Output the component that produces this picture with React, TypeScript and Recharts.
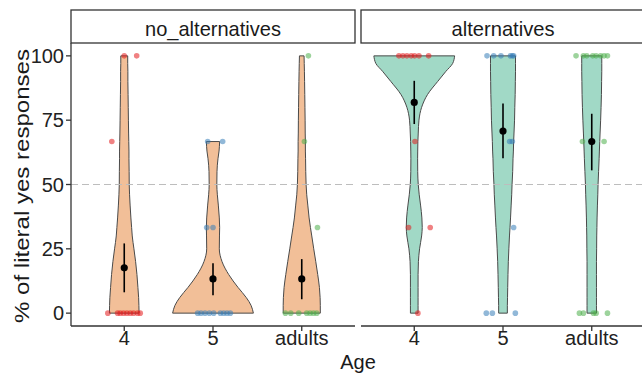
import { ComposedChart, Area, Scatter, XAxis, YAxis, ReferenceLine, ErrorBar } from "recharts"

const ages = ["4", "5", "adults"]
const yTicks = [0, 25, 50, 75, 100]

// y levels where the violin half-widths were read
const levels = [0, 3, 6, 10, 15, 20, 25, 30, 33.3, 37, 42, 46, 50, 55, 60, 63, 66.7, 70, 75, 80, 85, 90, 94, 97, 100]

// half-widths in category units (null = outside the violin)
const noAlt4W = [0.167, 0.165, 0.162, 0.154, 0.143, 0.128, 0.109, 0.09, 0.083, 0.075, 0.066, 0.06, 0.056, 0.055, 0.053, 0.053, 0.051, 0.049, 0.047, 0.045, 0.043, 0.041, 0.041, 0.039, 0.039]
const noAlt5W = [0.455, 0.429, 0.376, 0.282, 0.177, 0.102, 0.071, 0.073, 0.075, 0.071, 0.06, 0.049, 0.043, 0.045, 0.056, 0.068, 0.075, null, null, null, null, null, null, null, null]
const noAltAdW = [0.209, 0.209, 0.207, 0.199, 0.18, 0.158, 0.135, 0.113, 0.098, 0.083, 0.068, 0.056, 0.049, 0.045, 0.043, 0.041, 0.041, 0.039, 0.038, 0.036, 0.034, 0.032, 0.03, 0.028, 0.026]
const alt4W = [0.043, 0.043, 0.043, 0.043, 0.043, 0.047, 0.06, 0.083, 0.09, 0.086, 0.071, 0.056, 0.045, 0.039, 0.038, 0.039, 0.041, 0.045, 0.053, 0.083, 0.15, 0.263, 0.357, 0.432, 0.455]
const alt5W = [0.049, 0.049, 0.051, 0.053, 0.056, 0.06, 0.066, 0.073, 0.079, 0.085, 0.092, 0.098, 0.102, 0.109, 0.113, 0.117, 0.12, 0.124, 0.13, 0.133, 0.137, 0.139, 0.141, 0.141, 0.141]
const altAdW = [0.053, 0.053, 0.053, 0.053, 0.053, 0.053, 0.055, 0.056, 0.058, 0.06, 0.064, 0.068, 0.071, 0.077, 0.083, 0.086, 0.09, 0.094, 0.1, 0.105, 0.109, 0.111, 0.113, 0.113, 0.113]

// jittered responses: [offset from category, value]
const noAlt4Pts = [[0, 100], [0.14, 100], [-0.14, 66.7], [-0.185, 0], [-0.075, 0], [-0.045, 0], [-0.008, 0], [0.03, 0], [0.068, 0], [0.105, 0], [0.15, 0], [0.18, 0]]
const noAlt5Pts = [[-0.06, 66.7], [0.109, 66.7], [-0.071, 33.3], [0, 33.3], [-0.173, 0], [-0.135, 0], [-0.09, 0], [-0.041, 0], [0.008, 0], [0.083, 0], [0.12, 0], [0.158, 0], [0.195, 0]]
const noAltAdPts = [[0.075, 100], [0.03, 66.7], [0.177, 33.3], [-0.184, 0], [-0.124, 0], [-0.034, 0], [0.056, 0], [0.094, 0], [0.132, 0], [0.169, 0]]
const alt4Pts = [[-0.173, 100], [-0.128, 100], [-0.083, 100], [-0.034, 100], [0.004, 100], [0.053, 100], [0.162, 100], [0.008, 66.7], [-0.064, 33.3], [0.18, 33.3], [0.041, 0]]
const alt5Pts = [[-0.18, 100], [-0.105, 100], [-0.023, 100], [0.083, 100], [0.105, 100], [0.12, 100], [0.075, 66.7], [0.105, 66.7], [0.12, 33.3], [-0.188, 0], [-0.12, 0], [0.139, 0]]
const altAdPts = [[-0.177, 100], [-0.094, 100], [-0.056, 100], [0.011, 100], [0.049, 100], [0.1, 100], [0.139, 100], [0.177, 100], [-0.105, 66.7], [0.139, 66.7], [-0.139, 0], [-0.094, 0], [0.019, 0], [0.049, 0], [0.177, 0]]

// means with confidence intervals
const noAltMeans = [17.6, 13.3, 13.3]
const noAltLow = [8.1, 7.0, 5.4]
const noAltHigh = [27.1, 19.4, 21.0]
const altMeans = [81.9, 70.8, 66.7]
const altLow = [73.5, 60.2, 55.5]
const altHigh = [90.3, 81.5, 77.5]

const pointColors = ["#E41A1C", "#377EB8", "#4DAF4A"]
const outline = "#4a4a4a"
const axisColor = "#333"

type PanelProps = {
  widths: (number | null)[][]
  points: number[][][]
  means: number[]
  low: number[]
  high: number[]
  fill: string
  showY: boolean
  width: number
}

function Panel({ widths, points, means, low, high, fill, showY, width }: PanelProps) {
  const rows = levels.map((y, i) => ({ y, w0: widths[0][i], w1: widths[1][i], w2: widths[2][i] }))
  const meanRows = means.map((m, k) => ({ x: k, y: m, err: [m - low[k], high[k] - m] }))

  const edges = widths.map((w, k) => {
    const idx = w.map((v, i) => (v == null ? -1 : i)).filter((i) => i >= 0)
    const a = idx[0]
    const b = idx[idx.length - 1]
    return [
      { k, y: levels[a], w: w[a] as number },
      { k, y: levels[b], w: w[b] as number },
    ]
  }).flat()

  return (
    <ComposedChart
      layout="vertical"
      width={width}
      height={383}
      data={rows}
      margin={{ top: 43, right: 0, bottom: 0, left: 0 }}
    >
      <XAxis
        type="number"
        dataKey="x"
        domain={[-0.6, 2.6]}
        ticks={[0, 1, 2]}
        interval={0}
        allowDataOverflow
        tickFormatter={(v: number) => ages[v]}
        height={57}
        tickSize={5}
        tickMargin={0}
        axisLine={{ stroke: axisColor, strokeWidth: 1.3 }}
        tickLine={{ stroke: axisColor, strokeWidth: 1.3 }}
        tick={{ fill: "#222", fontSize: 20 }}
      />
      <YAxis
        type="number"
        dataKey="y"
        domain={[-5, 105]}
        ticks={yTicks}
        interval={0}
        reversed
        allowDataOverflow
        hide={!showY}
        width={showY ? 71 : 0}
        tickSize={5}
        tickMargin={2}
        axisLine={{ stroke: axisColor, strokeWidth: 1.3 }}
        tickLine={{ stroke: axisColor, strokeWidth: 1.3 }}
        tick={{ fill: "#222", fontSize: 20 }}
      />
      {[0, 1, 2].map((k) => (
        <Area
          key={"v" + k}
          type="monotone"
          dataKey={(r: any) => {
            const w = r["w" + k]
            return w == null ? [null, null] : [k - w, k + w]
          }}
          fill={fill}
          fillOpacity={1}
          stroke={outline}
          strokeWidth={1}
          dot={false}
          activeDot={false}
          isAnimationActive={false}
        />
      ))}
      {edges.map((e, i) => (
        <ReferenceLine
          key={"e" + i}
          segment={[{ x: e.k - e.w, y: e.y }, { x: e.k + e.w, y: e.y }]}
          stroke={outline}
          strokeWidth={1}
        />
      ))}
      <ReferenceLine y={50} stroke="#bdbdbd" strokeWidth={1} strokeDasharray="7 4" />
      {points.map((pts, k) => (
        <Scatter
          key={"p" + k}
          data={pts.map(([dx, y]) => ({ x: k + dx, y }))}
          isAnimationActive={false}
          shape={(p: any) => (
            <circle cx={p.cx} cy={p.cy} r={2.8} fill={pointColors[k]} fillOpacity={0.55} />
          )}
        />
      ))}
      <Scatter
        data={meanRows}
        isAnimationActive={false}
        shape={(p: any) => <circle cx={p.cx} cy={p.cy} r={3.6} fill="#000" />}
      >
        <ErrorBar dataKey="err" direction="y" width={0} stroke="#000" strokeWidth={1.6} />
      </Scatter>
    </ComposedChart>
  )
}

export default function App() {
  return (
    <div
      style={{
        position: "absolute",
        left: 0,
        top: 0,
        width: 642,
        height: 383,
        overflow: "hidden",
        background: "#fff",
        fontFamily: '"Liberation Sans", Arial, Helvetica, sans-serif',
      }}
    >
      <div style={{ position: "absolute", left: 0, top: 0 }}>
        <Panel
          widths={[noAlt4W, noAlt5W, noAltAdW]}
          points={[noAlt4Pts, noAlt5Pts, noAltAdPts]}
          means={noAltMeans}
          low={noAltLow}
          high={noAltHigh}
          fill="#F2BF98"
          showY
          width={355}
        />
      </div>
      <div style={{ position: "absolute", left: 361, top: 0 }}>
        <Panel
          widths={[alt4W, alt5W, altAdW]}
          points={[alt4Pts, alt5Pts, altAdPts]}
          means={altMeans}
          low={altLow}
          high={altHigh}
          fill="#A1D9C6"
          showY={false}
          width={284}
        />
      </div>
      <svg
        width={642}
        height={383}
        style={{ position: "absolute", left: 0, top: 0, pointerEvents: "none" }}
        fontFamily='"Liberation Sans", Arial, Helvetica, sans-serif'
      >
        <rect x={71} y={10} width={284} height={33} fill="#fff" stroke={axisColor} strokeWidth={1.3} />
        <rect x={361} y={10} width={292} height={33} fill="#fff" stroke={axisColor} strokeWidth={1.3} />
        <text x={213} y={36} textAnchor="middle" fontSize={21} fill="#1a1a1a" textLength={136} lengthAdjust="spacingAndGlyphs">
          no_alternatives
        </text>
        <text x={503} y={36} textAnchor="middle" fontSize={21} fill="#1a1a1a" textLength={103} lengthAdjust="spacingAndGlyphs">
          alternatives
        </text>
        <text x={358} y={369} textAnchor="middle" fontSize={20} fill="#1a1a1a">
          Age
        </text>
        <text
          transform="translate(28.5,186) rotate(-90)"
          textAnchor="middle"
          fontSize={21}
          fill="#1a1a1a"
          textLength={274}
          lengthAdjust="spacingAndGlyphs"
        >
          % of literal yes responses
        </text>
      </svg>
    </div>
  )
}
